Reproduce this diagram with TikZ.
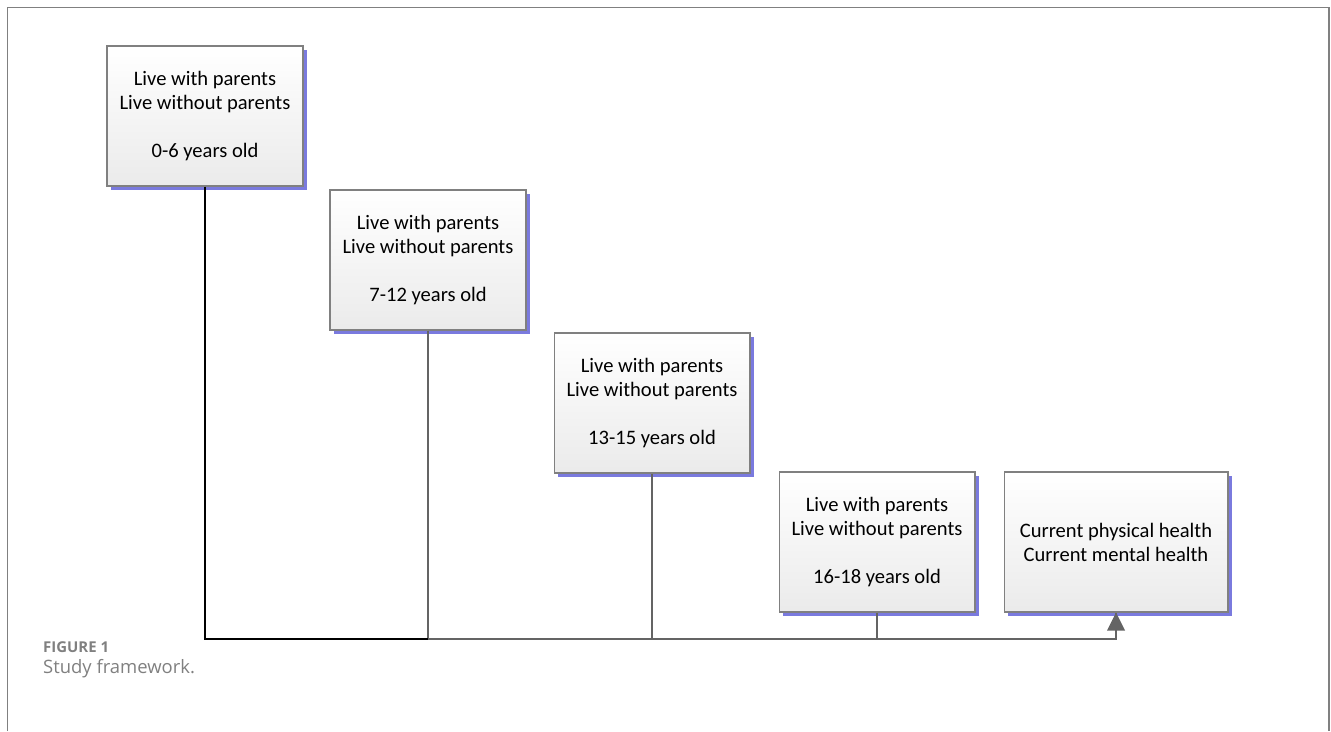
\documentclass[tikz,border=0pt]{standalone}
\usepackage{fontspec}
\setmainfont{Carlito}
\newfontfamily\capfont{Open Sans}
\usepackage{xcolor}
\usepackage{tikz}
\usetikzlibrary{arrows.meta,positioning,calc,shadows}
\definecolor{shadowblue}{RGB}{122,122,222}
\definecolor{framegray}{RGB}{128,128,128}
\definecolor{linegray}{RGB}{100,100,100}

\begin{document}
\begin{tikzpicture}[
    x=0.02cm, y=-0.02cm,
    agebox/.style={draw=framegray, line width=0.6pt, top color=white, bottom color=gray!16,
        minimum width=3.92cm, minimum height=2.8cm, align=center,
        font=\fontsize{11.7}{13.7}\selectfont,
        drop shadow={shadow xshift=0.08cm, shadow yshift=-0.08cm, fill=shadowblue, opacity=1}},
    outbox/.style={agebox, minimum width=4.48cm},
    mainline/.style={draw=black, line width=1.6pt},
    subline/.style={draw=linegray, line width=1.2pt}
]
\useasboundingbox (0,0) rectangle (1331,731);
% outer frame, open at the bottom
\draw[framegray, line width=1.1pt] (7.5,731) -- (7.5,7.5) -- (1329,7.5) -- (1329,731);

% age periods
\node[agebox] (b1) at (205,116) {Live with parents\\Live without parents\\[13.7pt]0-6 years old};
\node[agebox] (b2) at (428,260) {Live with parents\\Live without parents\\[13.7pt]7-12 years old};
\node[agebox] (b3) at (652,403) {Live with parents\\Live without parents\\[13.7pt]13-15 years old};
\node[agebox] (b4) at (877,542) {Live with parents\\Live without parents\\[13.7pt]16-18 years old};
\node[outbox] (b5) at (1116,542) {Current physical health\\Current mental health};

% timeline
\coordinate (base) at (0,639);
\draw[subline] (b2.south |- base) -| (b5.south);
\draw[subline] (b2.south) -- (b2.south |- base);
\draw[subline] (b3.south) -- (b3.south |- base);
\draw[subline] (b4.south) -- (b4.south |- base);
\draw[mainline] (b1.south) |- (b2.south |- base);
\fill[linegray] (b5.south) -- ++(-9,18) -- ++(18,0) -- cycle;

% caption
\node[anchor=west, text=gray, font=\capfont\bfseries\fontsize{8.5}{10}\selectfont] (fig) at (37,647) {FIGURE 1};
\node[anchor=west, text=gray, font=\capfont\fontsize{10.5}{12}\selectfont] (cap) at (37,669) {Study framework.};
\end{tikzpicture}
\end{document}
